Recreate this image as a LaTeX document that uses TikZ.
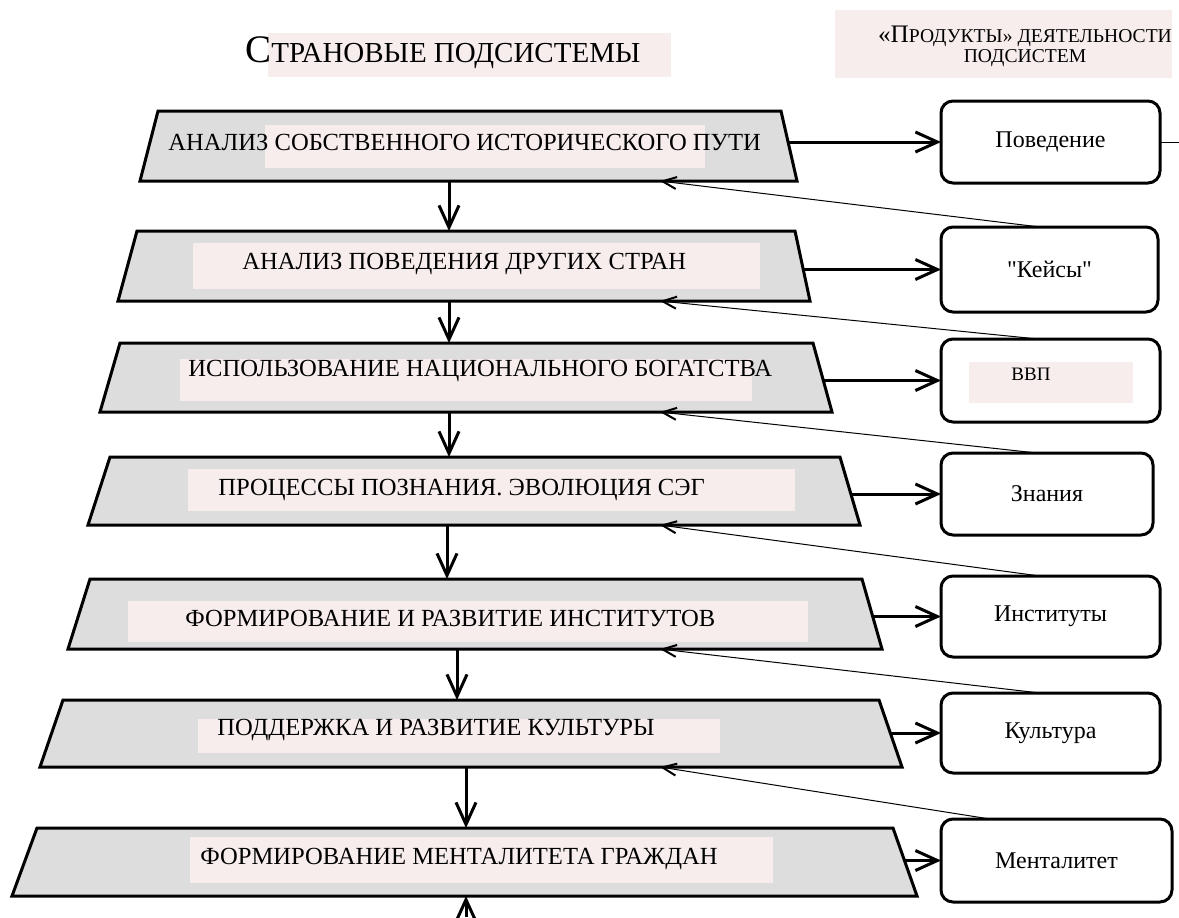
\documentclass[tikz,border=0pt]{standalone}
\usepackage{fontspec}
\setmainfont{Liberation Serif}
\usepackage{xcolor}
\usepackage{tikz}
\usetikzlibrary{arrows.meta}

\definecolor{boxgray}{RGB}{221,221,221}
\definecolor{markpink}{RGB}{247,237,236}

\begin{document}
\begin{tikzpicture}[x=0.5pt,y=-0.5pt,
  subsys/.style={draw, line width=1.5pt, fill=boxgray},
  product/.style={draw, line width=1.5pt, rounded corners=6pt, inner sep=0pt, outer sep=0pt, font=\fontsize{12}{14}\selectfont},
  subtxt/.style={anchor=west, inner sep=0pt, font=\fontsize{12.3}{14}\selectfont},
  flow/.style={line width=1.5pt, -{Straight Barb[length=11pt,width=10pt,line width=1.5pt]}},
  feed/.style={line width=0.5pt, -{Straight Barb[length=7pt,width=6pt,line width=1pt]}}
]
\useasboundingbox (0,0) rectangle (1179,917);

% Headings
\fill[markpink] (268,33) rectangle (671,77);
\fill[markpink] (835,10) rectangle (1172,78);
\node[anchor=base west, inner sep=0pt] (title) at (245,62) {{\fontsize{19.5}{20}\selectfont С}{\fontsize{14.5}{16}\selectfont ТРАНОВЫЕ ПОДСИСТЕМЫ}};
\node[align=center, inner sep=0pt, font=\fontsize{9.8}{10}\selectfont] (prodtitle) at (1025,46) {{\fontsize{12.6}{12}\selectfont «П}РОДУКТЫ» ДЕЯТЕЛЬНОСТИ\\ПОДСИСТЕМ};

% Country subsystems (trapezia): i / top / bottom / top left / top right / bottom left / bottom right
\foreach \i/\yt/\yb/\xtl/\xtr/\xbl/\xbr in {
  1/111/181/158/781/140/797,
  2/231/301/137/795/118/810,
  3/343/412/120/813/100/832,
  4/457/525/110/840/88/860,
  5/579/649/90/862/68/882,
  6/700/767/63/879/40/902,
  7/828/896/37/893/12/917} {
    \pgfmathsetmacro{\cx}{(\xtl+\xtr+\xbl+\xbr)/4}
    \pgfmathsetmacro{\cy}{(\yt+\yb)/2}
    \pgfmathsetmacro{\bw}{((\xtr+\xbr)-(\xtl+\xbl))/4}
    \pgfmathsetmacro{\bh}{(\yb-\yt)*0.5}
    \draw[subsys] (\xtl,\yt) -- (\xtr,\yt) -- (\xbr,\yb) -- (\xbl,\yb) -- cycle;
    \node[inner sep=0pt, outer sep=0pt, minimum width=\bw pt, minimum height=\bh pt] (s\i) at (\cx,\cy) {};
}

% Text highlights
\foreach \xa/\ya/\xb/\yb in {265/125/705/168, 193/243/760/289, 180/359/752/401, 188/469/795/511,
  128/601/808/642, 198/719/720/753, 190/837/773/883, 969/362/1133/403}
  \fill[markpink] (\xa,\ya) rectangle (\xb,\yb);

% Subsystem names
\foreach \i/\x/\y/\txt in {
  1/168/142/{АНАЛИЗ СОБСТВЕННОГО ИСТОРИЧЕСКОГО ПУТИ},
  2/242/264/{АНАЛИЗ ПОВЕДЕНИЯ ДРУГИХ СТРАН},
  3/188/371/{ИСПОЛЬЗОВАНИЕ НАЦИОНАЛЬНОГО БОГАТСТВА},
  4/218/490/{ПРОЦЕССЫ ПОЗНАНИЯ. ЭВОЛЮЦИЯ СЭГ},
  5/185/618/{ФОРМИРОВАНИЕ И РАЗВИТИЕ ИНСТИТУТОВ},
  6/217/730/{ПОДДЕРЖКА И РАЗВИТИЕ КУЛЬТУРЫ},
  7/200/859/{ФОРМИРОВАНИЕ МЕНТАЛИТЕТА ГРАЖДАН}}
  \node[subtxt] (t\i) at (\x,\y) {\txt};

% Products of the subsystems
\foreach \i/\x/\y/\w/\h/\txt in {
  1/1050.5/142/219/82/{Поведение},
  2/1049.5/269.5/217/85/{\textquotedbl Кейсы\textquotedbl},
  3/1050.5/380.5/219/83/{},
  4/1047/494/212/82/{Знания},
  5/1050.5/616.5/219/81/{Институты},
  6/1050.5/733/219/80/{Культура},
  7/1056.5/860.5/231/83/{Менталитет}}
  \node[product, minimum width=\w*0.5pt, minimum height=\h*0.5pt] (r\i) at (\x,\y) {\txt};
\node[inner sep=0pt, font=\fontsize{9.5}{11}\selectfont] (gdp) at (1031,374) {ВВП};

% Flow down the subsystems
\foreach \i/\j/\x in {1/2/449, 2/3/449, 3/4/449, 4/5/447, 5/6/457, 6/7/466}
  \draw[flow] (s\i.south -| \x,0) -- (s\j.north -| \x,0);
\coordinate (below) at (466,917);
\draw[flow] (below) -- (s7.south -| below);

% Subsystems to products
\foreach \i in {1,...,7}
  \draw[flow] (r\i.west -| s\i.east) -- (r\i.west);
\coordinate (rightedge) at (1179,142);
\draw[line width=0.5pt] (r1.east) -- (rightedge);

% Feedback from products
\foreach \i/\j/\x in {1/2/1040, 2/3/1038, 3/4/1037, 4/5/1040, 5/6/1040, 6/7/990}
  \draw[feed] (r\j.north -| \x,0) -- (s\i.south -| 660,0);

\end{tikzpicture}
\end{document}
